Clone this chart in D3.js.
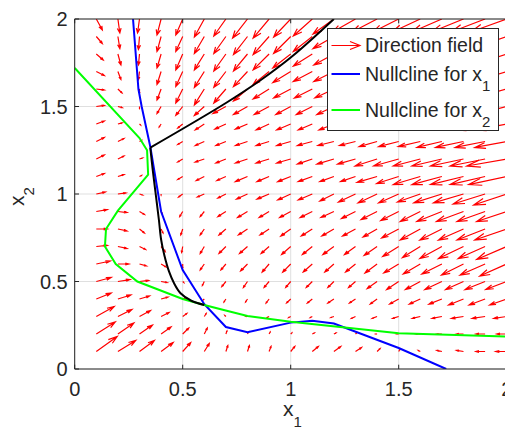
<!DOCTYPE html>
<html><head><meta charset="utf-8">
<script src="https://cdn.jsdelivr.net/npm/d3@7"></script>
<style>
body{margin:0;background:#fff}
svg{display:block}
text{font-family:"Liberation Sans",Arial,Helvetica,sans-serif;fill:#262626}
</style>
</head><body>
<svg id="chart" width="505" height="433"></svg>
<script>
// ---------- data ----------
const gridX1 = [0.1,0.2,0.3,0.4,0.5,0.6,0.7,0.8,0.9,1.0,1.1,1.2,1.3,1.4,1.5,1.6,1.7,1.8,1.9,2.0];
const gridX2 = [0.1,0.2,0.3,0.4,0.5,0.6,0.7,0.8,0.9,1.0,1.1,1.2,1.3,1.4,1.5,1.6,1.7,1.8,1.9,2.0];
// displayed arrow components (data units); row k = gridX2[k], column = gridX1
const fieldU = [
[.097,.083,.069,.056,.037,.023,.009,.009,.009,.019,.028,.032,.028,.014,.005,-.009,-.023,-.032,-.042,-.051],
[.088,.074,.06,.046,.028,.014,.005,.005,.005,.005,.009,.009,.005,-.005,-.009,-.019,-.023,-.032,-.042,-.046],
[.083,.065,.051,.037,.019,.009,-.005,-.005,-.009,-.009,-.009,-.014,-.019,-.023,-.028,-.037,-.046,-.056,-.06,-.06],
[.069,.06,.046,.032,.014,-.005,-.009,-.009,-.014,-.019,-.023,-.028,-.028,-.032,-.042,-.051,-.06,-.069,-.074,-.079],
[.069,.056,.042,.028,.005,-.009,-.019,-.019,-.023,-.023,-.028,-.028,-.032,-.046,-.056,-.069,-.079,-.083,-.093,-.097],
[.065,.051,.032,.023,0,-.019,-.023,-.032,-.032,-.037,-.042,-.042,-.046,-.056,-.069,-.079,-.093,-.102,-.116,-.125],
[.051,.042,.028,.019,-.005,-.019,-.032,-.037,-.037,-.042,-.046,-.051,-.051,-.06,-.074,-.083,-.102,-.116,-.125,-.139],
[.051,.042,.023,.009,-.009,-.019,-.032,-.042,-.042,-.046,-.051,-.056,-.06,-.065,-.079,-.093,-.102,-.116,-.13,-.148],
[.051,.042,.023,.005,-.014,-.019,-.037,-.046,-.046,-.051,-.056,-.06,-.065,-.074,-.083,-.093,-.116,-.125,-.13,-.139],
[.042,.037,.014,0,-.019,-.032,-.037,-.051,-.056,-.06,-.065,-.065,-.079,-.088,-.093,-.106,-.13,-.139,-.148,-.153],
[.037,.028,.009,0,-.023,-.037,-.042,-.056,-.056,-.06,-.065,-.065,-.069,-.093,-.102,-.125,-.139,-.153,-.162,-.176],
[.037,.028,.014,0,-.023,-.042,-.046,-.056,-.06,-.065,-.069,-.079,-.083,-.102,-.116,-.125,-.139,-.153,-.162,-.185],
[.037,.028,.009,0,-.023,-.042,-.046,-.056,-.06,-.065,-.069,-.074,-.074,-.083,-.093,-.102,-.116,-.13,-.139,-.148],
[.037,.019,.005,-.009,-.023,-.042,-.051,-.056,-.06,-.065,-.065,-.069,-.074,-.083,-.093,-.102,-.111,-.125,-.134,-.144],
[.037,.019,0,-.019,-.032,-.046,-.06,-.065,-.069,-.069,-.074,-.079,-.079,-.088,-.097,-.106,-.116,-.125,-.134,-.144],
[.037,.019,0,-.019,-.032,-.046,-.056,-.065,-.074,-.079,-.083,-.088,-.093,-.097,-.102,-.111,-.12,-.13,-.139,-.148],
[.037,.014,-.005,-.019,-.032,-.046,-.056,-.065,-.074,-.083,-.088,-.093,-.097,-.102,-.106,-.116,-.125,-.134,-.144,-.153],
[.032,.014,-.005,-.019,-.032,-.046,-.056,-.065,-.074,-.083,-.088,-.093,-.102,-.106,-.111,-.12,-.13,-.139,-.148,-.157],
[.028,.009,-.005,-.019,-.032,-.046,-.056,-.065,-.074,-.079,-.088,-.097,-.102,-.111,-.116,-.125,-.134,-.144,-.153,-.162],
[.028,.009,-.009,-.019,-.032,-.046,-.056,-.069,-.074,-.079,-.088,-.097,-.106,-.116,-.12,-.13,-.139,-.148,-.157,-.167]
];
const fieldV = [
[.086,.063,.063,.051,.051,.046,.034,.034,.029,.029,.029,.029,.023,.017,.011,.006,.006,.006,0,0],
[.069,.063,.051,.04,.034,.034,.017,.011,.011,.006,.006,.006,.006,0,0,0,0,0,0,0],
[.057,.04,.034,.023,.017,.017,.006,0,-.006,-.006,-.006,-.006,-.011,-.011,-.011,-.011,-.011,-.011,-.011,-.011],
[.034,.023,.017,.011,.006,-.006,-.017,-.017,-.023,-.023,-.023,-.023,-.023,-.029,-.029,-.029,-.029,-.034,-.034,-.034],
[.023,.011,.006,-.006,-.006,-.023,-.029,-.034,-.034,-.034,-.034,-.034,-.034,-.04,-.046,-.046,-.046,-.046,-.046,-.046],
[.017,0,-.011,-.017,-.023,-.034,-.034,-.04,-.046,-.046,-.046,-.046,-.046,-.051,-.051,-.057,-.057,-.063,-.063,-.069],
[.006,-.011,-.017,-.029,-.034,-.04,-.04,-.04,-.04,-.046,-.046,-.046,-.046,-.051,-.057,-.063,-.069,-.069,-.069,-.074],
[0,-.011,-.023,-.023,-.034,-.034,-.034,-.034,-.034,-.04,-.04,-.04,-.04,-.046,-.051,-.063,-.063,-.063,-.063,-.063],
[.011,-.006,-.017,-.011,-.029,-.029,-.029,-.034,-.034,-.034,-.034,-.034,-.04,-.046,-.051,-.057,-.057,-.057,-.057,-.057],
[.011,.006,-.006,-.006,-.017,-.017,-.023,-.029,-.029,-.034,-.034,-.04,-.046,-.051,-.051,-.046,-.051,-.051,-.057,-.063],
[.017,.011,.006,0,-.017,-.023,-.023,-.029,-.029,-.029,-.029,-.029,-.029,-.034,-.04,-.046,-.046,-.046,-.046,-.046],
[.023,.017,.006,0,-.017,-.017,-.023,-.023,-.023,-.023,-.029,-.029,-.029,-.04,-.04,-.04,-.04,-.04,-.04,-.04],
[.023,.017,.006,0,-.017,-.023,-.023,-.023,-.023,-.023,-.023,-.023,-.023,-.029,-.029,-.029,-.034,-.034,-.034,-.034],
[.017,.006,-.006,-.017,-.023,-.034,-.029,-.029,-.034,-.034,-.034,-.034,-.034,-.034,-.034,-.034,-.034,-.034,-.034,-.034],
[.006,-.006,-.011,-.04,-.051,-.051,-.04,-.046,-.046,-.046,-.046,-.046,-.046,-.046,-.046,-.046,-.046,-.046,-.046,-.046],
[-.006,-.023,-.023,-.063,-.08,-.091,-.08,-.069,-.057,-.051,-.051,-.051,-.051,-.051,-.051,-.051,-.051,-.051,-.051,-.051],
[-.023,-.046,-.046,-.074,-.086,-.091,-.091,-.086,-.074,-.063,-.057,-.057,-.057,-.057,-.057,-.057,-.057,-.057,-.057,-.057],
[-.034,-.063,-.063,-.08,-.091,-.091,-.097,-.097,-.091,-.08,-.069,-.063,-.063,-.063,-.063,-.063,-.063,-.063,-.063,-.063],
[-.04,-.069,-.074,-.086,-.086,-.097,-.097,-.103,-.103,-.097,-.086,-.069,-.069,-.069,-.069,-.069,-.069,-.069,-.069,-.069],
[-.063,-.08,-.08,-.091,-.091,-.103,-.097,-.109,-.109,-.103,-.097,-.086,-.074,-.074,-.074,-.074,-.074,-.074,-.074,-.074]
];
const nullclineX1 = [[0.27,2.0],[0.295,1.6],[0.31,1.5],[0.35,1.27],[0.4,0.9],[0.5,0.565],[0.6,0.37],[0.7,0.24],[0.8,0.21],[1.0,0.265],[1.1,0.275],[1.2,0.26],[1.5,0.12],[1.72,0.0]];
const nullclineX2 = [[0.0,1.72],[0.3,1.32],[0.335,1.25],[0.34,1.11],[0.2,0.905],[0.145,0.8],[0.14,0.7],[0.19,0.6],[0.29,0.5],[0.5,0.4],[0.6,0.366],[0.69,0.337],[0.8,0.303],[1.0,0.27],[1.37,0.222],[1.5,0.204],[2.0,0.185]];
const trajUpper = [[1.2,2.0],[1.01,1.79],[0.86,1.65],[0.7,1.52],[0.35,1.265]];
const trajLower = [[0.35,1.265],[0.36,1.15],[0.375,1.0],[0.39,0.85],[0.4,0.74],[0.415,0.65],[0.437,0.556],[0.46,0.49],[0.49,0.433],[0.54,0.39],[0.6,0.366]];
const xTicks = [0,0.5,1,1.5,2];
const yTicks = [0,0.5,1,1.5,2];
const xTickLabels = ["0","0.5","1","1.5","2"];
const yTickLabels = ["0","0.5","1","1.5","2"];
const legendLabels = ["Direction field","Nullcline for x","Nullcline for x"];
const legendSubs = ["","1","2"];

// ---------- layout ----------
const svg = d3.select("#chart");
const L = 74.7, R = 506.7, T = 19, B = 369;
const x = d3.scaleLinear().domain([0,2]).range([L,R]);
const y = d3.scaleLinear().domain([0,2]).range([B,T]);
const axisCol = "#262626";

svg.append("defs").append("clipPath").attr("id","clip")
  .append("rect").attr("x",L).attr("y",T).attr("width",R-L).attr("height",B-T);

// grid
const g = svg.append("g");
g.selectAll(".gx").data(xTicks).join("line")
  .attr("x1",d=>x(d)).attr("x2",d=>x(d)).attr("y1",T).attr("y2",B)
  .attr("stroke","#dfdfdf").attr("stroke-width",1);
g.selectAll(".gy").data(yTicks).join("line")
  .attr("x1",L).attr("x2",R).attr("y1",d=>y(d)).attr("y2",d=>y(d))
  .attr("stroke","#dfdfdf").attr("stroke-width",1);

// quiver
const alpha = 0.33, beta = 0.33;
const arrows = [];
gridX2.forEach((yy,j)=>gridX1.forEach((xx,i)=>{
  arrows.push({x:xx,y:yy,u:fieldU[j][i],v:fieldV[j][i]});
}));
function arrowPath(a){
  const tx=a.x+a.u, ty=a.y+a.v;
  const h1x=tx-alpha*(a.u+beta*a.v), h1y=ty-alpha*(a.v-beta*a.u);
  const h2x=tx-alpha*(a.u-beta*a.v), h2y=ty-alpha*(a.v+beta*a.u);
  return `M${x(a.x)},${y(a.y)}L${x(tx)},${y(ty)}M${x(h1x)},${y(h1y)}L${x(tx)},${y(ty)}L${x(h2x)},${y(h2y)}`;
}
const plot = svg.append("g").attr("clip-path","url(#clip)");
plot.append("g").selectAll("path").data(arrows).join("path")
  .attr("d",arrowPath).attr("fill","none").attr("stroke","#ff0000").attr("stroke-width",1.2);

const line = d3.line().x(d=>x(d[0])).y(d=>y(d[1]));
const smooth = d3.line().x(d=>x(d[0])).y(d=>y(d[1])).curve(d3.curveCatmullRom);
plot.append("path").attr("d",line(nullclineX1)).attr("fill","none").attr("stroke","#0000ff").attr("stroke-width",2);
plot.append("path").attr("d",line(nullclineX2)).attr("fill","none").attr("stroke","#00ff00").attr("stroke-width",2);
plot.append("path").attr("d",smooth(trajUpper)).attr("fill","none").attr("stroke","#000").attr("stroke-width",2);
plot.append("path").attr("d",smooth(trajLower)).attr("fill","none").attr("stroke","#000").attr("stroke-width",2);

// axes box
svg.append("line").attr("x1",L).attr("x2",L).attr("y1",T).attr("y2",B).attr("stroke",axisCol);
svg.append("line").attr("x1",L).attr("x2",R).attr("y1",B).attr("y2",B).attr("stroke",axisCol);
svg.append("line").attr("x1",L).attr("x2",R).attr("y1",T).attr("y2",T).attr("stroke",axisCol);
const tl = 4.3;
svg.selectAll(".tx").data(xTicks).join("line")
  .attr("x1",d=>x(d)).attr("x2",d=>x(d)).attr("y1",B).attr("y2",B-tl).attr("stroke",axisCol);
svg.selectAll(".tx2").data(xTicks).join("line")
  .attr("x1",d=>x(d)).attr("x2",d=>x(d)).attr("y1",T).attr("y2",T+tl).attr("stroke",axisCol);
svg.selectAll(".ty").data(yTicks).join("line")
  .attr("x1",L).attr("x2",L+tl).attr("y1",d=>y(d)).attr("y2",d=>y(d)).attr("stroke",axisCol);

svg.selectAll(".xl").data(xTicks).join("text")
  .attr("x",d=>x(d)).attr("y",396).attr("text-anchor","middle").attr("font-size",20)
  .text((d,i)=>xTickLabels[i]);
svg.selectAll(".yl").data(yTicks).join("text")
  .attr("x",L-7).attr("y",d=>y(d)+7).attr("text-anchor","end").attr("font-size",20)
  .text((d,i)=>yTickLabels[i]);

// axis labels
const xl = svg.append("text").attr("x",283).attr("y",415.5).attr("font-size",21);
xl.append("tspan").text("x");
xl.append("tspan").attr("dy",11).attr("font-size",15).text("1");
const yl = svg.append("text").attr("transform","translate(24,206) rotate(-90)").attr("font-size",21);
yl.append("tspan").text("x");
yl.append("tspan").attr("dy",10).attr("font-size",15).text("2");

// legend
const lg = svg.append("g");
lg.append("rect").attr("x",327.5).attr("y",28.5).attr("width",171).attr("height",102)
  .attr("fill","#fff").attr("stroke",axisCol).attr("stroke-width",1);
const rowY = [45.5,74,110];
const sx0 = 331.5, sx1 = 360;
lg.append("path").attr("d",`M${sx0},${rowY[0]}L${sx1},${rowY[0]}M${sx1-10},${rowY[0]-4}L${sx1},${rowY[0]}L${sx1-10},${rowY[0]+4}`)
  .attr("fill","none").attr("stroke","#ff0000").attr("stroke-width",1.2);
lg.append("line").attr("x1",sx0).attr("x2",sx1).attr("y1",rowY[1]).attr("y2",rowY[1]).attr("stroke","#0000ff").attr("stroke-width",2);
lg.append("line").attr("x1",sx0).attr("x2",sx1).attr("y1",rowY[2]).attr("y2",rowY[2]).attr("stroke","#00ff00").attr("stroke-width",2);
legendLabels.forEach((t,k)=>{
  const tx = lg.append("text").attr("x",365).attr("y",rowY[k]+6.5).attr("font-size",19.5);
  tx.append("tspan").text(t);
  if(legendSubs[k]) tx.append("tspan").attr("dy",10).attr("font-size",15).text(legendSubs[k]);
});
</script>
</body></html>
